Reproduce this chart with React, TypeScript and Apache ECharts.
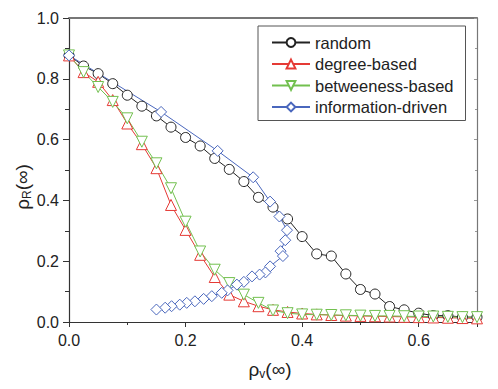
import React, { useEffect, useRef } from "react";
import * as echarts from "echarts";

const xGrid = [0, 0.025, 0.05, 0.075, 0.1, 0.125, 0.15, 0.175, 0.2, 0.225, 0.25, 0.275, 0.3, 0.325, 0.35, 0.375, 0.4, 0.425, 0.45, 0.475, 0.5, 0.525, 0.55, 0.575, 0.6, 0.625, 0.65, 0.675, 0.7];
const randomY = [0.877, 0.842, 0.817, 0.784, 0.746, 0.71, 0.678, 0.641, 0.607, 0.579, 0.538, 0.502, 0.462, 0.41, 0.378, 0.339, 0.281, 0.224, 0.217, 0.158, 0.107, 0.092, 0.051, 0.04, 0.029, 0.021, 0.021, 0.016, 0.016];
const degreeY = [0.877, 0.822, 0.79, 0.73, 0.653, 0.585, 0.506, 0.385, 0.303, 0.221, 0.148, 0.09, 0.068, 0.052, 0.04, 0.033, 0.028, 0.025, 0.023, 0.021, 0.02, 0.019, 0.018, 0.017, 0.016, 0.015, 0.014, 0.013, 0.012];
const betweenY = [0.877, 0.822, 0.773, 0.724, 0.67, 0.593, 0.522, 0.44, 0.33, 0.232, 0.172, 0.128, 0.09, 0.063, 0.038, 0.029, 0.025, 0.024, 0.023, 0.022, 0.021, 0.02, 0.02, 0.019, 0.018, 0.018, 0.017, 0.016, 0.016];
const infoX = [0, 0.158, 0.255, 0.316, 0.345, 0.361, 0.374, 0.371, 0.363, 0.367, 0.345, 0.337, 0.327, 0.314, 0.3, 0.288, 0.272, 0.262, 0.245, 0.231, 0.216, 0.202, 0.19, 0.176, 0.165, 0.15];
const infoY = [0.877, 0.691, 0.563, 0.476, 0.396, 0.347, 0.302, 0.269, 0.233, 0.217, 0.183, 0.163, 0.156, 0.15, 0.132, 0.123, 0.104, 0.096, 0.085, 0.076, 0.068, 0.063, 0.057, 0.052, 0.047, 0.041];
const seriesNames = ["random", "degree-based", "betweeness-based", "information-driven"];
const xTickLabels = ["0.0", "0.2", "0.4", "0.6"];
const yTickLabels = ["0.0", "0.2", "0.4", "0.6", "0.8", "1.0"];

const FONT = "'Liberation Sans', Arial, sans-serif";

export default function App() {
  const ref = useRef<HTMLDivElement>(null);
  useEffect(() => {
    if (!ref.current) return;
    const chart = echarts.init(ref.current, undefined, { renderer: "svg" });
    const pair = (xs: number[], ys: number[]) => xs.map((x, i) => [x, ys[i]]);
    const fmt = (labels: string[]) => (v: number) => {
      const s = v.toFixed(1);
      return labels.indexOf(s) >= 0 ? s : "";
    };
    const mk = (name: string, data: number[][], color: string, symbol: string, size: number, rotate = 0) => ({
      name,
      type: "line",
      data,
      symbol,
      symbolSize: size,
      symbolRotate: rotate,
      showAllSymbol: true,
      lineStyle: { color, width: 1 },
      itemStyle: { color: "#fff", borderColor: color, borderWidth: 1 },
      color,
    });
    const axisCommon = {
      type: "value",
      min: 0,
      interval: 0.2,
      splitLine: { show: false },
    };
    chart.setOption({
      animation: false,
      grid: { left: 69, right: 21, top: 18, bottom: 67 },
      xAxis: [
        {
          ...axisCommon,
          max: 0.7,
          axisLine: { lineStyle: { color: "#333", width: 1.2 } },
          axisTick: { inside: false, length: 5, lineStyle: { color: "#333" } },
          minorTick: { show: true, splitNumber: 2, length: 3, lineStyle: { color: "#333" } },
          axisLabel: { formatter: fmt(xTickLabels), fontSize: 16, fontFamily: FONT, color: "#222", margin: 10 },
        },
        {
          ...axisCommon,
          max: 0.7,
          position: "top",
          axisLine: { onZero: false, lineStyle: { color: "#777", width: 2 } },
          axisTick: { show: false },
          axisLabel: { show: false },
        },
      ],
      yAxis: [
        {
          ...axisCommon,
          max: 1,
          axisLine: { show: true, lineStyle: { color: "#333", width: 1.2 } },
          axisTick: { show: true, inside: false, length: 6, lineStyle: { color: "#333" } },
          minorTick: { show: true, splitNumber: 2, length: 4, lineStyle: { color: "#333" } },
          axisLabel: { formatter: fmt(yTickLabels), fontSize: 16, fontFamily: FONT, color: "#222", margin: 10 },
        },
        {
          ...axisCommon,
          max: 1,
          position: "right",
          axisLine: { show: true, onZero: false, lineStyle: { color: "#777", width: 1.2 } },
          axisTick: { show: true, inside: true, length: 3, lineStyle: { color: "#999" } },
          minorTick: { show: true, splitNumber: 2, length: 2, lineStyle: { color: "#999" } },
          axisLabel: { show: false },
        },
      ],
      legend: {
        orient: "vertical",
        left: 258,
        top: 26,
        data: seriesNames,
        itemWidth: 38,
        itemHeight: 11,
        itemGap: 4.5,
        padding: [8, 12, 5, 13],
        borderColor: "#555",
        borderWidth: 1,
        textStyle: { fontSize: 16.5, fontFamily: FONT, color: "#222" },
      },
      graphic: [
        {
          type: "text",
          x: 270,
          y: 369,
          style: {
            text: "{a|ρ}{s|v}{a|(∞)}",
            align: "center",
            verticalAlign: "middle",
            rich: {
              a: { fontSize: 19, fontFamily: FONT, fill: "#222", color: "#222" },
              s: { fontSize: 12, fontFamily: FONT, fill: "#222", color: "#222", padding: [10, 0, 0, 0] },
            },
          },
        },
        {
          type: "text",
          x: 22,
          y: 187,
          rotation: Math.PI / 2,
          style: {
            text: "{a|ρ}{s|R}{a|(∞)}",
            align: "center",
            verticalAlign: "middle",
            rich: {
              a: { fontSize: 19, fontFamily: FONT, fill: "#222", color: "#222" },
              s: { fontSize: 12, fontFamily: FONT, fill: "#222", color: "#222", padding: [10, 0, 0, 0] },
            },
          },
        },
      ],
      series: [
        mk(seriesNames[0], pair(xGrid, randomY), "#222", "circle", 10),
        mk(seriesNames[1], pair(xGrid, degreeY), "#e53a35", "triangle", 11),
        mk(seriesNames[2], pair(xGrid, betweenY), "#72c04f", "triangle", 11, 180),
        mk(seriesNames[3], pair(infoX, infoY), "#4a67bd", "diamond", 11),
      ],
    });
    return () => chart.dispose();
  }, []);
  return <div ref={ref} style={{ width: 498, height: 389, position: "absolute", left: 0, top: 0 }} />;
}
